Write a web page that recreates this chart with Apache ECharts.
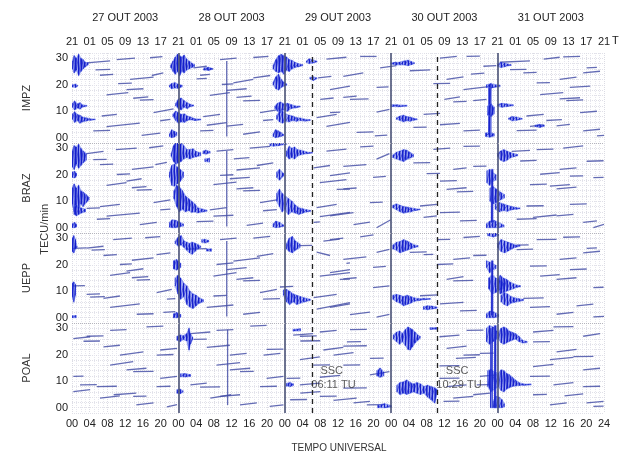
<!DOCTYPE html>
<html><head><meta charset="utf-8">
<script src="https://cdn.jsdelivr.net/npm/echarts@6/dist/echarts.min.js"></script>
<style>html,body{margin:0;padding:0;background:#fff}#c{width:619px;height:452px}</style>
</head><body><div id="c"></div>
<script>
const stations = ['IMPZ','BRAZ','UEPP','POAL'];
const dayTitles = ['27 OUT 2003','28 OUT 2003','29 OUT 2003','30 OUT 2003','31 OUT 2003'];
const dayBoundaries = [24,48,72,96];
const sscTimes = [54.183, 82.483];
const sscLabels = ['06:11 TU','10:29 TU'];
const yTickValues = [0,10,20,30];

// satellite passes: [hourStart, tecStart, hourEnd, tecEnd] (hours since 27 Oct 00 UT)
const impzSegs = [
[3.3,28.3,8.6,29],[10.1,29.5,14.2,30.1],[17.6,30.2,20.4,30.6],[5.3,25.6,8.6,25.8],[6.3,23.6,9.3,23.9],[13.1,22,18.4,22.9],[18,23.5,20.6,24.5],[10.4,20.4,13.5,20.6],[7.8,16.2,12.7,17],[12.3,18.2,16.1,18.5],[13.8,14.9,17.2,15.4],[15.3,14.2,18.4,14.4],[6.7,8.2,10.1,8.8],[7.8,4.2,15.3,5.5],[4.8,2.6,8.6,2.8],[15.7,0.9,19.9,1.7],[18.4,9.5,22.9,10.9],[19.9,6.4,22.2,6.9],
[27.4,26.4,30.4,27],[33.4,29.5,37.1,30.1],[40.9,30.3,44.3,30.7],[28.1,22.2,30.4,22.4],[36.4,20.7,40.9,22],[40.9,22.6,44.7,23.5],[33.8,20.1,36.4,20.3],[31.1,16,35.6,17],[34.9,17.9,39.4,18.5],[37.1,15.2,40.5,15.7],[38.6,13.9,42.4,14.1],[29.6,8,33.4,8.8],[30.4,4.7,34.9,5.7],[34.9,4.4,38.6,5],[28.9,2.6,31.9,2.8],[38.6,1.3,42.4,2.2],[42.4,9.5,46.2,10.5],[43.1,6.5,45.4,6.8],[34.9,0.5,34.9,29],[29.6,25.7,31.9,26],[28.9,23.6,31.1,23.9],
[57.4,29.7,61.9,30.4],[65,30.7,68.7,30.7],[69.5,26.4,73.2,27.2],[61.2,23.2,65.7,24.5],[55.5,22.6,58.5,23.2],[58.2,18.2,62.7,19.5],[61.2,15.2,64.2,15.7],[62.7,14.5,66.9,14.7],[68.7,19,71.4,19.2],[68.7,9.7,71.6,10.7],[55.2,7.6,59.7,8.8],[57.4,4.3,62.7,5.8],[64.2,2,68,2.2],[68.3,0.7,71.1,1],[58.2,9.5,60.5,9.7],[56,14.5,59,15],
[76.2,25.3,80.8,25.6],[83,30.1,86.8,30.7],[89,30.7,92,30.8],[84.5,22,88.3,23],[81.5,20.4,85.3,20.5],[88.3,18.2,93.5,19.2],[84,14.5,87.5,15.4],[86,13.5,89,13.7],[90.5,14,93.5,14.5],[79.3,8.8,83,9.2],[83,4.9,87.5,5.4],[77,3.9,80,4],[88.3,2.6,92,2.9],[92.8,27,95.7,27.2],[90,24,93,24.4],
[96.5,28.5,103.3,29],[98.8,25.7,102.5,25.8],[101.8,24.5,104.8,24.7],[106.4,29.7,110,30.4],[110.8,30.5,114.6,30.7],[116.1,26.4,118.4,26.6],[110,22,113.8,22.9],[115.3,24.5,119.1,25.1],[104.8,20.7,107.8,20.8],[105.6,16.3,110.8,17],[110,14.7,114.6,15.1],[111.5,14,115.3,14.3],[112.3,19,116.9,19.5],[102.5,8.2,106.4,8.8],[103.3,4.3,106.4,4.8],[100.3,2.7,104.8,2.9],[109.3,4.5,112.3,5],[115.3,2.6,119.1,3.2],[114.6,9.5,118.4,10],[118.4,0.7,120,0.9],[107,6.5,110.5,6.8]
];
const brazSegs = [
[3.3,28,7.1,28.8],[9.9,29.5,14.6,30.1],[17.4,30.2,20.6,30.9],[4.8,25.7,7.8,25.8],[6.3,23.8,9.3,24],[13.5,22,18.4,23],[18.8,23.8,21.4,24.7],[10.1,20.1,13.1,20.3],[7.8,16,12.3,17],[12.3,17.6,15.7,18.5],[13.5,15.1,16.8,15.5],[14.6,14.2,18,14.4],[3.3,7.3,6.3,7.5],[6.3,8,10.8,8.8],[7.8,4.4,15.3,5.5],[5.6,3.2,8.6,3.4],[15.3,1.2,19.1,2],[18.4,9.5,22.2,10.5],[19.9,6.7,22.2,7],
[32.6,28.9,36.4,29.5],[40.1,30.1,44.7,30.7],[37.1,21.8,42.4,22.6],[41.7,23.5,45.4,24.5],[33.4,19.8,36.4,20],[31.9,16.3,37.1,17.2],[35.6,18.5,40.1,19],[37.1,14.7,40.9,15.1],[38.6,13.9,42.4,14.1],[31.1,6.7,34.9,7.6],[31.9,4.4,36.4,4.7],[28.1,2.3,31.9,2.5],[39.4,0.9,43.1,1.7],[42.4,9.5,46.2,10.5],[43.1,6.4,46.2,6.8],[34.9,0.5,34.9,29],[36.5,26,40,26.5],
[57.4,28.9,61.9,29.7],[54.5,22.6,58.2,23.5],[55.9,17,61.9,18.2],[59.7,14.5,62.7,14.6],[55.2,7.6,59.7,8.8],[55.9,4.2,62.7,5.8],[54.5,2,55.9,2.2],[65,30.5,68,30.8],[61.2,23.2,66.4,23.8],[68.7,25.9,71.6,28],[58.2,19.7,62.7,20.7],[61.2,14.7,64.2,15],[67.9,19,70.8,19.4],[67.2,9.5,70.1,9.7],[58.2,4.5,63.5,5.7],[63.5,1.2,67.2,2.1],[68.7,0,71.9,3],
[77,24.5,80.8,24.6],[81.5,29.6,85.3,30.1],[88.3,30.7,92,30.8],[86,22,89,22.6],[90.5,23.2,93.5,23.3],[80,20.4,83,20.5],[84.5,14.5,89,15.1],[86.8,13.5,90.5,13.7],[83,17.6,86.8,17.8],[78.5,8.2,82.3,8.8],[79.3,3.9,82.3,4.5],[83,5.7,87.5,5.9],[87.5,2.6,91.3,2.8],
[99.2,28.8,103.3,29.2],[101.1,25.2,104.8,25.4],[104.8,29.5,108.6,29.7],[110.8,30.1,115.3,30.9],[116.1,25.1,119.9,25.3],[110,22,113.8,22.6],[105.6,20.2,110,20.8],[103.3,16.3,107.1,16.5],[107.8,15.7,112.3,16.3],[109.3,14.7,113.8,15.3],[112.3,19.5,115.3,19.6],[117.6,18.9,119.9,19],[102.5,8.2,106.4,8.3],[104,3.9,109.3,4.8],[100.3,3.2,104.8,3.4],[109.3,4.5,113.1,5],[112.3,8.8,116.1,9],[115.3,2,118.4,2.6],[117.6,0,120,1.3]
];
const ueppSegs = [
[0.3,26.2,3.3,26.4],[0.3,12,2.9,12.1],[3.3,26.3,7.1,27],[9.3,29.5,13.5,30.1],[16.5,30.2,19.9,30.6],[4.4,25.5,7.4,25.7],[7.1,23.5,10.1,23.8],[13.5,21.7,18.4,22.6],[19.1,23.8,22.2,24.5],[10.8,20.1,13.5,20.3],[8.6,16,13.1,17],[12.3,17.6,16.1,18.5],[13.5,15.1,17.2,15.5],[14.6,14.2,17.6,14.4],[3.3,8.8,6.3,9],[4.1,7.8,7.4,8],[7.1,7.3,10.8,8.2],[8.6,3.9,15.3,5.2],[14.6,1.3,18.4,1.5],[19.1,9.5,22.5,10.7],[21.4,7,23.3,7.2],[20.6,2,23.3,2.3],
[25.9,25.9,30.4,26.1],[33.4,29.5,37.1,30.1],[40.9,30.1,44.7,30.7],[36.4,21.4,42.4,22.6],[41.7,23.2,45.4,24.2],[32.6,20.1,36.4,20.7],[31.9,15.7,37.1,17],[34.9,18.2,39.4,18.9],[37.1,14.5,40.9,15.1],[38.6,13.9,42.4,14.1],[31.9,8.2,34.9,8.4],[30.4,3.9,36.4,4.8],[38.6,1.3,42.4,2],[42.4,9.5,46.2,10.7],[43.1,7,46.9,7.2],[46.9,11.6,49.9,11.8],[34.9,0.5,34.9,29],
[51.4,27.2,54.2,27.3],[56.7,28.9,60.4,29.7],[55.2,24.8,58.2,23.5],[55.9,15.7,62.7,17],[60.4,14.5,62.7,14.6],[54.5,7.6,59.7,8.8],[55.2,3.2,62.7,5.7],[61.9,20.5,62.7,20.7],[58.2,29.5,61.2,30.1],[65,30.5,68,31.3],[61.2,22,66.4,23],[68.7,24.7,71.6,25.8],[58.2,17,62.7,18.2],[61.2,14.7,64.2,15.1],[67.9,19,70.8,19.4],[67.9,11.4,71.6,12],[58.2,3.9,62.7,5.2],[62.7,1.2,67.2,2.1],[68.7,0.2,71.6,1.3],
[76.2,24.7,80,24.9],[82.3,29.5,85.3,29.6],[88.3,30.3,92,30.7],[86,22,89.8,22.6],[79.3,23.8,81.5,23.9],[82.3,20.1,86,20.3],[84.5,14.5,88.3,15.5],[86,13.9,90.5,14.1],[83,5.2,88.3,5.8],[87.5,2.6,91.3,2.8],[90.5,23.5,93.5,23.6],[78.5,8.3,82.5,8.6],
[100.3,27.4,103,27.5],[104.8,29.5,109.3,29.6],[100.3,25.7,104,25.9],[110,22,113.8,22.6],[115.3,24.5,119.1,25.1],[110.8,30.4,114.6,30.5],[116.1,26.2,118.4,26.4],[105.6,15.7,110,16.3],[109.3,14.5,113.8,15.1],[103.3,19.5,107.1,19.6],[112.3,18.2,116.1,18.4],[117.6,11.4,119.9,11.5],[101.8,7.3,106.4,7.5],[103.3,3.9,107.8,4.2],[109.3,1.3,113.1,2],[113.8,4.5,117.6,5.1],[117.6,0.3,120,0.5]
];
const poalSegs = [
[0.3,26.1,4.1,26.8],[2.6,25.1,6.3,25.2],[8.6,29.2,12.3,29.5],[16.8,30.5,20.6,30.8],[3.3,27,7.1,27.1],[7.1,23,10.8,23.6],[10.8,19.9,16.1,21.1],[8.6,16.1,13.8,17.4],[12.3,14.3,16.8,14.9],[13.8,13.6,18.4,13.7],[19.1,19.9,22.9,20.1],[19.9,21.8,23.7,22.4],[0.3,11.8,2.6,11.9],[1.8,8.6,5.6,8.7],[0.3,6.1,4.1,6.8],[5.6,8,10.1,8.1],[6.3,3.6,10.8,4.5],[9.4,4.9,14.5,5.5],[13.8,4.3,16.8,4.4],[14.5,1.1,18.4,1.8],[19.9,11.1,23.7,11.8],[19.1,8,22.2,8.1],[21.4,0.3,23.7,1.2],
[26.7,28,31.2,28.6],[27.4,25.8,30.4,25.9],[32.6,29.2,36.4,29.5],[40.2,30.8,43.9,31.1],[30.4,22.8,35.6,23.6],[35.6,19.9,39.4,20.5],[32.6,16.1,37.9,17],[35.6,14.3,40.2,14.9],[37.9,13.6,41,13.7],[43.2,19.9,47,20.5],[43.9,22,47.7,22.1],[26.7,8.6,30.4,9.3],[28.9,7.8,33.4,7.9],[31.2,3.6,35.9,4.9],[33.4,4.3,37.9,4.9],[37.9,1.1,41.7,1.8],[43.9,11.1,47.7,11.8],[42.4,8,46.2,8.1],[44.6,0.5,47.7,1.1],[35.1,1,35.1,29.5],
[49.9,27.4,54.4,28],[51.5,25.2,56,25.3],[48.4,11.1,51.5,11.2],[51.5,5.5,56,6.1],[49.2,3,53,3.1],[55.9,28.6,59.7,29.2],[62.7,29.5,66.5,29.6],[51.4,27,55.2,27.1],[56.7,21.8,61.2,22.8],[61.2,23.3,66.5,23.4],[62,24.9,65.2,25],[67.2,18.6,70.3,18.7],[51.4,18.2,55.9,19.2],[54.4,16.1,58.2,16.2],[59,19.9,63.5,20.8],[61.2,16.1,65,16.2],[67.2,12.4,71.6,13.6],[55.9,11.5,60.5,12.2],[51.4,8.6,55.9,9.3],[61.2,7.4,66.5,7.5],[55.9,4.3,59.7,4.4],[59,2.8,64.2,3.6],[63.5,1.8,67.2,2.4],[66.5,1.1,70.3,1.2],
[82.9,26.8,87.4,27.4],[89,29.2,92.8,29.3],[84.5,22.4,89,23.3],[88.3,19.9,92,20],[82.9,15.8,87.4,15.9],[86.6,18.6,91.1,19],[82.9,11.1,87.4,11.2],[92,11.8,95.8,12.4],[84.5,8,89,8.6],[91.3,8.6,94.3,8.7],[86,3.6,90.5,4.3],[83.8,2.4,87.4,2.5],[90.5,4.9,94.3,5.5],[92,20.5,95.1,20.6],
[104,28.6,108.6,29.2],[108.6,30.5,113.1,30.6],[115.3,27,119.1,28],[104,24.9,107.8,25],[109.3,21.1,113.8,22],[113.1,19.3,117.6,19.4],[107.8,18.2,113.1,19],[104,15.5,108.6,16.4],[115.3,14.3,119.1,14.9],[103.3,11.8,107.8,11.9],[108.6,8.6,113.1,9.5],[104,4.9,107.1,5],[111.1,4.5,115.3,5.2],[107.8,1.1,111.6,1.8],[116.1,1.8,119.9,2.4],[117.6,0.5,119.9,0.6],[115.3,8,119.1,8.1]
];

// scintillation bursts: list of [hour, tecLow, tecHigh]
const impzBursts = [
[[0.1,26,29],[0.5,24.5,31],[1,25.5,30],[1.5,23.5,31.5],[2,25,30],[2.5,26,29.5],[3,26.8,28.5],[3.6,27.5,28.3]],
[[0,19.2,20],[0.8,19,20.2],[1.2,19.4,19.8]],
[[0.1,11.5,13],[0.6,10.5,13.8],[1.2,11.2,12.8],[1.8,10.8,13.2],[2.4,11.6,12.4],[3.3,11.9,12.2]],
[[0.1,7,9],[0.6,5.8,9.8],[1.2,6.5,8.8],[1.8,5.5,8.5],[2.4,6,7.8],[3.2,6.3,7.5],[4,6.6,7.2],[5.2,6.8,7]],
[[22.3,26.5,27.5],[22.8,25,29],[23.3,24,30.5],[23.8,25,31.5],[24.3,23.5,31],[24.8,25,30.5],[25.3,24.5,31.2],[25.8,25.5,29.8],[26.4,26,29],[27,26.5,28.2],[27.6,26.8,27.6]],
[[22,19.2,19.8],[22.5,18.5,20.5],[23.2,18.8,20.8],[24,18.6,20.2],[24.8,19.2,19.8]],
[[23.4,12,13],[24,11,14.5],[24.6,10.5,15],[25.3,11.5,14],[26,11,13.2],[26.7,11.8,12.6],[27.4,12,12.3]],
[[22.8,8,9],[23.4,6.5,10],[24,5.5,9.5],[24.7,6,8.8],[25.4,5.8,9],[26,6.5,8.2],[26.8,6.8,7.8],[27.6,6.5,7.2],[29,6.7,7]],
[[22,0.5,1.5],[22.5,0,3],[23,0.2,2.5],[23.6,0.8,2]],
[[29.8,25.6,26.4],[30.8,25.4,26.6],[31.6,25.8,26.2]],
[[45.4,26,27.5],[46,25,29.5],[46.6,24.5,31],[47.2,25,31.5],[47.8,24,31],[48.4,25.5,30.5],[49,25,29.5],[49.6,26,29.2],[50.3,26.5,28.5],[51,26.8,28],[52,27.2,27.6]],
[[45.4,20,21],[46,18.5,23],[46.6,18,24],[47.2,19,22],[47.8,19.5,21],[48.4,19.8,20.3]],
[[45.8,11,12],[46.4,10,13],[47,9.5,13.5],[47.8,10.5,12.8],[48.6,10,13],[49.4,11,12.5],[50.4,11.3,12],[51.4,11.6,11.9]],
[[46.2,7,8.5],[46.8,6,9.8],[47.5,5.5,10],[48.2,6.2,9],[49,6,8.5],[49.8,6.5,8.2],[50.6,6.2,7.6],[51.5,6.5,7.4],[52.5,6.3,7],[53.7,6.5,6.8]],
[[45.4,0.5,1.5],[45.9,0,3],[46.5,0.2,2.6],[47.1,0.5,2],[47.7,0.8,1.2]],
[[52.9,28.5,29],[53.5,28,29.8],[54.2,28.2,29.5],[55.2,28.6,28.9]],
[[53.7,22.2,22.8],[54.4,21.6,23],[55.2,22.3,22.6]],
[[72,27.8,28.3],[73,27.5,28.5],[74,27.6,28.6],[75,27.5,29],[75.8,27.2,29.3],[76.5,27.6,28.8],[77.2,28,28.3]],
[[72,11.8,12.5],[73.5,11.7,12.4],[75.5,11.9,12.2]],
[[73.2,7,7.5],[74,6.5,8.2],[74.8,6,8.5],[75.5,6.4,8],[76.3,6.2,7.8],[77,6.6,7.4],[77.8,6.8,7.1]],
[[94,1,20],[94.5,0.5,20.5]],
[[93.5,19,20],[94.5,18.8,20.3],[96.5,19.3,19.8]],
[[93.8,8.5,12],[94.5,8,12.8],[95.2,9,11.5]],
[[93.3,0.5,1.8],[94.2,0.2,2],[95.2,0.6,1.5]],
[[96,27,27.8],[96.8,26.5,28.5],[97.6,26.8,28.2],[98.4,27.2,27.8],[99,27.3,27.6]],
[[96,12,12.6],[97,11.5,13],[98,11.8,12.8],[99.5,12.1,12.4]],
[[98.5,7,7.4],[99.3,6.4,8],[100.2,6.6,7.8],[101.5,7,7.3]],
[[104.5,4.2,4.8],[105.5,3.9,5],[106.5,4.3,4.7]]
];
const brazBursts = [
[[0,23,29],[0.5,22,31],[1,24,30.5],[1.5,22.5,31.5],[2,23.5,30],[2.5,24.5,29],[3.2,25.5,28]],
[[0,19,21],[0.6,18.8,21.3],[1,19.5,20.5]],
[[0,9,15],[0.5,6,16.5],[1,8,15],[1.5,7,16],[2,9,14],[2.5,8,13.5],[3.2,9.5,12.5],[3.8,10.5,11.5]],
[[0.5,5,8],[1,4.5,8.5],[1.5,5,8],[2,5.5,7.5],[3,6,7]],
[[0,0,1.5],[0.6,0,2],[1,0.3,1.2]],
[[22.4,27,28],[22.9,25,31],[23.4,24,32.5],[24,24.5,33],[24.6,25,32.5],[25.2,26,31],[25.9,26.5,29.5],[26.6,26,29.5],[27.3,26.5,29.8],[28,26.8,28.8],[29,27.2,28.3]],
[[29.6,28,29],[30.2,27.8,29.3],[31.1,28.2,28.8]],
[[30,25,26],[31,24.8,26.2]],
[[22,19,21],[22.5,16,23.5],[23.1,15.7,24],[23.7,16.5,23],[24.4,17.5,22],[25.1,19,21]],
[[23,11,14],[23.6,8,16],[24.2,6,15.5],[24.9,7,14],[25.6,6,12],[26.3,6.5,11],[27,5.8,10],[27.7,6,9],[28.4,5.6,7.5],[29.5,6,7],[30.4,6.2,6.6]],
[[22,0.2,2],[22.6,0,3],[23.4,0,2.8],[24.2,0.3,2.2],[25.1,0.6,1.4]],
[[44.7,31,32.5],[45.5,30.8,33],[46.5,31,33],[48.4,31.5,32.5]],
[[48.4,27,29],[49,26,30.7],[49.6,26.5,30],[50.2,26,30.5],[50.8,27,29.5],[51.5,27.5,29.3],[52.2,27.8,29],[53,28,28.6],[54.2,28.2,28.4]],
[[46.2,19,21],[46.8,18,22],[47.7,19.5,20.5]],
[[46.2,10,13],[46.8,8,14.5],[47.4,6,13],[48,7,12],[48.8,5,11],[49.6,6,10],[50.4,5.5,8.5],[51.2,5,7.5],[52,5.5,7.2],[52.9,6,6.8],[53.8,6.2,6.5]],
[[45.4,0.3,1.5],[46,0,2.5],[46.8,0.2,2],[47.7,0.5,1]],
[[72.4,26.5,27.5],[73.2,26,28.5],[74,25.5,29],[74.8,25,29.5],[75.5,25.8,29.3],[76.2,26.3,28.5],[77,26.8,27.6]],
[[72.4,7.5,8.5],[73.2,6.8,9],[74,6,8.5],[74.8,5.5,8],[75.6,5.8,7.8],[76.4,6,7.5],[77.4,6.5,7.2],[78.5,6.8,7]],
[[93.6,17,21.5],[94.2,16,22],[94.8,17.5,21],[95.6,18,20]],
[[94.3,10,15],[95,9,15.5],[95.8,9.5,14.5],[96.6,10.5,13.5],[97.5,11.2,12.5]],
[[95.5,7,9],[96.4,6,9.5],[97.3,6.5,9],[98.2,6.2,8.5],[99.2,6.8,8],[100.2,7,7.6],[101,7.2,7.4]],
[[93.5,0,1.5],[94.3,0,2.5],[95.2,0,2.8],[96.2,0,2],[97.4,0.3,1]],
[[94.6,2,22],[94.9,2,22]],
[[96,27,28],[96.7,25.5,29],[97.4,25,29.5],[98.1,25.5,29],[98.8,26.3,28.5],[99.6,26.8,28],[100.5,27.2,27.6]]
];
const ueppBursts = [
[[0,25,30],[0.4,24.5,31],[0.8,26,29.5],[1.1,26.5,27]],
[[0,8,13],[0.4,6,13.5],[0.8,8.5,12.5]],
[[0,0,0.8],[0.9,0,0.8]],
[[23.3,28,29],[24,27,30.5],[24.6,27.5,31],[25.3,26.5,29],[25.9,25.5,28.5],[26.5,24.5,28],[27.1,24,28.5],[27.7,25,28.2],[28.4,26,27.6],[29,26.5,27]],
[[29.3,28.5,29.5],[30,28.3,29.6],[30.8,28.6,29.2]],
[[30.4,25.2,26],[31.4,25.1,26]],
[[22.9,18.5,21.5],[23.6,18,22],[24.5,19,20.5]],
[[23.3,12,15],[23.9,9,16],[24.5,7,15],[25.2,8,13],[25.9,5,12],[26.6,4,10],[27.3,3.5,9],[28,4.5,8.5],[28.7,5.5,7.5],[29.6,6,6.8]],
[[22.9,0,1.5],[23.6,0,2],[24.5,0.2,1.2]],
[[48.4,26,28],[49,25,30],[49.7,24.5,30.7],[50.4,25.5,29],[51.4,26.5,27.8]],
[[47.7,8.5,10.5],[48.4,6,10.7],[49.1,5,10],[49.9,6,9],[50.7,5,8.5],[51.5,5.5,8],[52.4,6,7.5],[53.7,6.5,7]],
[[72.4,26,27.5],[73.2,25.5,28.5],[74,24.5,28.8],[74.8,25,29.5],[75.6,25.5,29],[76.4,26,28.2],[77.2,26.5,27.5],[78,26.8,27.2]],
[[72.4,7,8.5],[73.2,6,8.8],[74,5.5,8.5],[74.8,4.5,8],[75.6,5,8.5],[76.4,5.5,8],[77.2,6.2,7.5],[78.2,6.5,7.2],[79.5,6.8,7.3],[80.8,7,7.2]],
[[79.3,3.2,4.2],[80.2,3,4.5],[81.2,3.3,4.4],[82.3,3.6,4]],
[[93.5,19,21.5],[94.2,17,21],[94.8,18,20.5],[95.6,18.5,19.8]],
[[94,11,15],[94.8,9,16],[95.6,9.5,15],[96.5,10.5,14],[97.3,11,13]],
[[93.5,0,1.5],[94.3,0,2.5],[95.1,0,2.2],[96.2,0.3,1.2]],
[[94.6,1,21.5],[94.9,1,21.5]],
[[93.8,31,32],[95,30.5,32.5],[96.2,31,32]],
[[96,26.5,28],[96.8,25,29.5],[97.6,24.5,29],[98.4,25.2,28.5],[99.2,26,28],[100,26.6,27.5],[101,27,27.4]],
[[96,11,14.5],[96.6,9,16],[97.3,9.5,15],[98,10,14.5],[98.8,10.5,13.5],[99.6,11,12.8],[100.4,11.5,12.3],[101.1,11.7,12.1]],
[[96.8,6,8.5],[97.5,5,9.5],[98.2,4.5,9],[99,5.5,8],[99.8,5.8,7.5],[100.8,6.2,7.2],[101.8,6.5,6.9]]
];
const poalBursts = [
[[23.7,25.5,27],[24.4,25,27.5],[25.1,25.8,27.2],[25.9,25.2,28],[26.4,21.8,30],[26.7,24,28],[27.2,25.8,26.6]],
[[24.5,11.7,12.8],[25.5,11.6,12.9],[26.7,11.8,12.5]],
[[23.7,5.5,6.8],[24.4,5.3,7],[25,5.8,6.4]],
[[48.4,8.2,9.2],[49.2,8,9.5],[49.9,8.4,9]],
[[49.9,29,29.6],[51.5,29,29.8]],
[[68.8,12,14],[69.5,11.5,15],[70.3,12,13.5]],
[[69,0,1],[70.5,0,1.5],[72,0.2,0.8]],
[[72.5,26,27.5],[73.2,25,28.5],[73.9,24,29],[74.5,25,28],[75.2,23.5,29.5],[75.8,22,30.5],[76.3,21.8,30],[76.8,23,29.5],[77.4,24.5,28.5],[78,25.5,27.5],[78.5,26.2,27]],
[[73.3,6,8.5],[74,5,9.5],[74.8,5.5,9.8],[75.5,5,10.5],[76.3,5.5,9.5],[77,6,9],[77.8,5.5,9.5],[78.6,5,9],[79.4,5.5,8],[80.2,4,8.5],[81,3,8],[81.8,1.8,7.5],[82.3,5,7]],
[[80.8,29.6,30.3],[82.3,29.6,30.2]],
[[93.5,25,30],[94.2,24,31],[95,25,30.5],[95.8,26,29]],
[[93.8,8,14],[94.5,6,14.5],[95.3,7,13.5],[96.2,8,13]],
[[94.4,0,30],[94.8,0,30]],
[[96.2,26,28.5],[96.8,24.5,30],[97.4,24,30.5],[98,24.5,30],[98.6,25,29],[99.3,25.5,28.5],[100,26,28],[100.8,25,27],[101.6,24.5,25.5],[102.6,24.6,25]],
[[96.2,8,13],[96.8,6.5,14.3],[97.4,6,14],[98,7,13],[98.6,7.5,12.5],[99.3,8,11.5],[100,8.2,10.5],[100.8,8.4,9.5],[101.8,8.5,9],[103.5,8.6,8.9]],
[[95,0,2.5],[95.6,0,4.3],[96.3,0,4],[97,0,3],[97.5,0.3,1.5]],
[[95.3,0,31],[95.6,0,31]]
];

const panelSegs = [impzSegs, brazSegs, ueppSegs, poalSegs];
const panelBursts = [impzBursts, brazBursts, ueppBursts, poalBursts];

const FF = "'Liberation Sans Narrow','Liberation Sans',Arial,sans-serif";
const TXT = '#222';
const pad = v => (v < 10 ? '0' : '') + v;

// hatch pattern for burst fill (vertical striations)
const pc = document.createElement('canvas');
pc.width = 3; pc.height = 4;
const pctx = pc.getContext('2d');
pctx.fillStyle = 'rgba(70,90,235,0.5)'; pctx.fillRect(0, 0, 3, 4);
pctx.fillStyle = 'rgba(18,28,205,0.95)'; pctx.fillRect(0, 0, 1, 4);
const hatch = {image: pc, repeat: 'repeat'};

const chart = echarts.init(document.getElementById('c'), null, {renderer: 'canvas'});

const grids = [], xAxes = [], yAxes = [], series = [];
for (let i = 0; i < 4; i++) {
  grids.push({left: 72, width: 532, top: 53 + 90 * i, height: 90});
  xAxes.push({
    gridIndex: i, type: 'value', min: 0, max: 120, interval: 4,
    axisLine: {show: false}, axisTick: {show: false},
    axisLabel: {show: i === 3, margin: 5, fontFamily: FF, fontSize: 11, color: TXT,
      formatter: v => v === 120 ? '24' : pad(v % 24)},
    splitLine: {show: true, lineStyle: {color: '#dcdce4', width: 1, type: 'dotted'}},
    minorTick: {show: false, splitNumber: 4},
    minorSplitLine: {show: true, lineStyle: {color: '#e6e6ee', width: 1, type: 'dotted'}}
  });
  yAxes.push({
    gridIndex: i, type: 'value', min: -2, max: 32, interval: 2,
    axisLine: {show: false}, axisTick: {show: false},
    axisLabel: {margin: 4, fontFamily: FF, fontSize: 11, color: TXT,
      formatter: v => yTickValues.indexOf(v) >= 0 ? pad(v) : ''},
    splitLine: {show: true, lineStyle: {color: '#e0e0e8', width: 1, type: 'dotted'}},
    name: stations[i], nameLocation: 'middle', nameGap: 40, nameRotate: 90,
    nameTextStyle: {fontFamily: "'Liberation Sans',Arial,sans-serif", fontSize: 11, color: '#333'}
  });
}
xAxes.push({gridIndex: 0, type: 'value', position: 'top', min: 0, max: 120, interval: 4,
  axisLine: {show: false}, axisTick: {show: false}, splitLine: {show: false},
  axisLabel: {margin: 6, fontFamily: FF, fontSize: 11, color: TXT,
    formatter: v => pad(((v - 3) % 24 + 24) % 24)}});
xAxes.push({gridIndex: 0, type: 'value', position: 'top', offset: 24, min: 0, max: 120, interval: 12,
  axisLine: {show: false}, axisTick: {show: false}, splitLine: {show: false},
  axisLabel: {margin: 6, fontFamily: FF, fontSize: 11, color: TXT,
    formatter: v => (v % 24 === 12) ? dayTitles[(v - 12) / 24] : ''}});

for (let i = 0; i < 4; i++) {
  const segs = panelSegs[i];
  const bursts = panelBursts[i];
  const mlData = dayBoundaries.map(h => ({xAxis: h, lineStyle: {color: '#4a5276', width: 1.6, type: 'solid'}}))
    .concat(sscTimes.map(h => ({xAxis: h, lineStyle: {color: '#222', width: 1.3, type: [5, 4]}})));
  if (i > 0) mlData.push({yAxis: 32, lineStyle: {color: '#b4b4bc', width: 1, type: 'dotted'}});
  series.push({
    type: 'custom', xAxisIndex: i, yAxisIndex: i, silent: true, clip: true,
    data: segs, encode: {x: [0, 2], y: [1, 3]},
    renderItem: (params, api) => {
      const p0 = api.coord([api.value(0), api.value(1)]);
      const p1 = api.coord([api.value(2), api.value(3)]);
      return {type: 'line', shape: {x1: p0[0], y1: p0[1], x2: p1[0], y2: p1[1]},
        style: {stroke: 'rgba(66,76,165,0.82)', lineWidth: 1.3}};
    },
    markLine: {silent: true, symbol: 'none', label: {show: false}, animation: false, data: mlData},
    animation: false, z: 3
  });
  series.push({
    type: 'custom', xAxisIndex: i, yAxisIndex: i, silent: true, clip: true,
    data: bursts.map((b, k) => [b[0][0], b[0][1], k]), encode: {x: 0, y: 1},
    renderItem: (params, api) => {
      const b = bursts[api.value(2)];
      const top = b.map(t => api.coord([t[0], t[2]]));
      const bot = b.slice().reverse().map(t => api.coord([t[0], t[1]]));
      const zig = [];
      b.forEach(t => { zig.push(api.coord([t[0], t[2]])); zig.push(api.coord([t[0], t[1]])); });
      return {type: 'group', children: [
        {type: 'polygon', shape: {points: top.concat(bot)},
          style: {fill: hatch, stroke: 'rgba(90,110,235,0.5)', lineWidth: 1.2}},
        {type: 'polyline', shape: {points: zig},
          style: {fill: null, stroke: 'rgba(15,25,200,0.75)', lineWidth: 0.8}}
      ]};
    },
    animation: false, z: 4
  });
}
const sscData = [];
sscTimes.forEach((h, k) => {
  sscData.push({value: [h + 4.4, 13.7], name: 'SSC'});
  sscData.push({value: [h + 4.8, 8.7], name: sscLabels[k]});
});
series.push({type: 'scatter', xAxisIndex: 3, yAxisIndex: 3, symbolSize: 0, silent: true, animation: false, z: 6,
  data: sscData,
  label: {show: true, position: 'inside', formatter: p => p.name, fontFamily: FF, fontSize: 11, color: '#333'}});

chart.setOption({
  backgroundColor: '#fff',
  animation: false,
  grid: grids, xAxis: xAxes, yAxis: yAxes, series: series,
  graphic: [
    {type: 'text', left: 39, top: 204, rotation: Math.PI / 2, style: {text: 'TECU/min', font: "11px 'Liberation Sans',Arial,sans-serif", fill: '#333'}},
    {type: 'text', x: 339, y: 448, style: {text: 'TEMPO UNIVERSAL', font: "10px 'Liberation Sans Narrow','Liberation Sans',Arial,sans-serif", fill: '#333', textAlign: 'center', textVerticalAlign: 'middle'}},
    {type: 'text', x: 612, y: 41, style: {text: 'TL', font: "11px 'Liberation Sans Narrow','Liberation Sans',Arial,sans-serif", fill: TXT, textAlign: 'left', textVerticalAlign: 'middle'}}
  ]
});
</script></body></html>
